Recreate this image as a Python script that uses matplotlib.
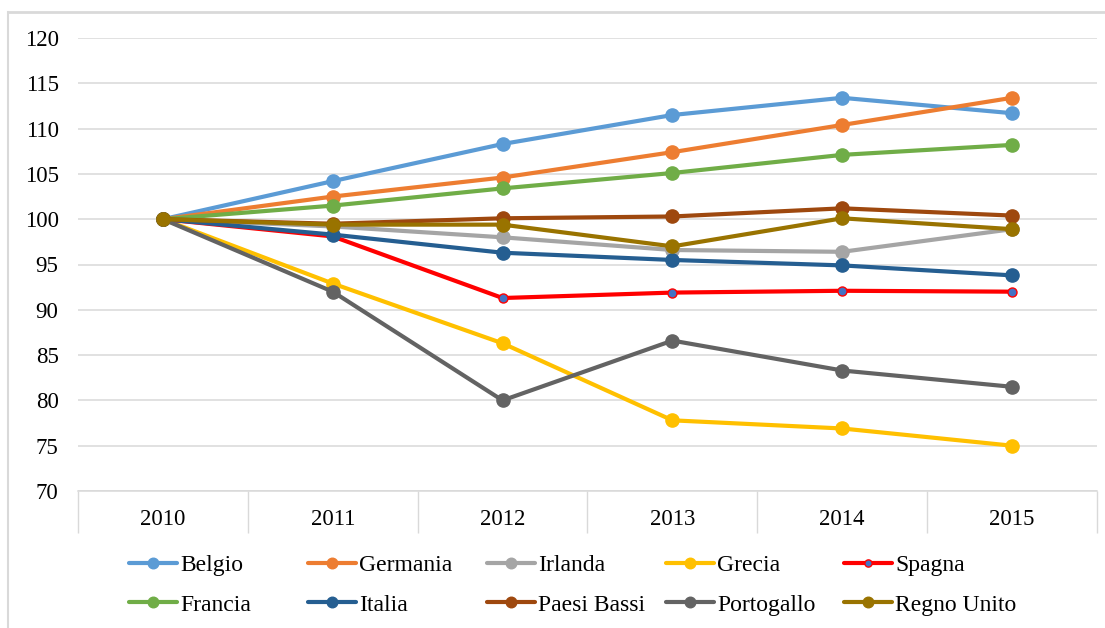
import matplotlib
matplotlib.use("Agg")
import matplotlib.pyplot as plt
from matplotlib.lines import Line2D

years = ["2010", "2011", "2012", "2013", "2014", "2015"]
countries = ["Belgio", "Germania", "Irlanda", "Grecia", "Spagna",
             "Francia", "Italia", "Paesi Bassi", "Portogallo", "Regno Unito"]

belgio = [100, 104.2, 108.3, 111.5, 113.4, 111.7]
germania = [100, 102.5, 104.6, 107.4, 110.4, 113.4]
irlanda = [100, 99.2, 98.0, 96.6, 96.4, 98.9]
grecia = [100, 92.9, 86.3, 77.8, 76.9, 75.0]
spagna = [100, 98.1, 91.3, 91.9, 92.1, 92.0]
francia = [100, 101.5, 103.4, 105.1, 107.1, 108.2]
italia = [100, 98.3, 96.3, 95.5, 94.9, 93.8]
paesi_bassi = [100, 99.5, 100.1, 100.3, 101.2, 100.4]
portogallo = [100, 92.0, 80.0, 86.6, 83.3, 81.5]
regno_unito = [100, 99.4, 99.4, 97.0, 100.1, 98.9]

series = [belgio, germania, irlanda, grecia, spagna,
          francia, italia, paesi_bassi, portogallo, regno_unito]
colors = ["#5B9BD5", "#ED7D31", "#A5A5A5", "#FFC000", "#FF0000",
          "#70AD47", "#255E91", "#9E480E", "#636363", "#997300"]

plt.rcParams["font.family"] = ["Liberation Serif", "DejaVu Serif"]

W, H = 1105, 628
fig = plt.figure(figsize=(W / 100, H / 100), dpi=100)
ax = fig.add_axes([78 / W, 1 - 491 / H, (1097 - 78) / W, (491 - 38) / H])

x = list(range(len(years)))
handles = []
for name, vals, col in zip(countries, series, colors):
    if name == "Spagna":
        h, = ax.plot(x, vals, color=col, lw=3.0, marker="o", ms=6.5,
                     mfc="#4472C4", mec=col, mew=1.0, label=name,
                     solid_capstyle="round", zorder=3)
    else:
        h, = ax.plot(x, vals, color=col, lw=3.0, marker="o", ms=9.5,
                     mfc=col, mec=col, label=name,
                     solid_capstyle="round", zorder=3)
    handles.append(h)

ax.set_xlim(-0.5, len(years) - 0.5)
ax.set_ylim(70, 120)
ax.set_yticks(range(70, 121, 5))
ax.set_xticks(x)
ax.set_xticklabels(years)
ax.set_xticks([i - 0.5 for i in range(len(years) + 1)], minor=True)
ax.tick_params(axis="x", which="major", length=0, pad=13, labelsize=16.5)
ax.tick_params(axis="x", which="minor", length=30, width=1.0,
               color="#D9D9D9", direction="out")
ax.tick_params(axis="y", length=0, pad=14, labelsize=16.5)
ax.grid(axis="y", color="#D9D9D9", lw=1.1, zorder=0)
ax.set_axisbelow(True)
for s in ["top", "right", "left"]:
    ax.spines[s].set_visible(False)
ax.spines["bottom"].set_color("#D9D9D9")
ax.spines["bottom"].set_linewidth(1.1)

# chart area frame (top and left edges visible)
fig.add_artist(Line2D([8 / W, 1], [1 - 12 / H, 1 - 12 / H],
                      transform=fig.transFigure, color="#D9D9D9", lw=2))
fig.add_artist(Line2D([8 / W, 8 / W], [0, 1 - 12 / H],
                      transform=fig.transFigure, color="#D9D9D9", lw=1.5))

# legend: 5 columns x 2 rows
col_x = [129, 308, 487, 666, 844]
for i in range(5):
    fig.legend(handles=[handles[i], handles[i + 5]],
               loc="center left", bbox_to_anchor=(col_x[i] / W, 1 - 585 / H),
               frameon=False, fontsize=17, handlelength=2.05,
               handletextpad=0.12, borderpad=0, borderaxespad=0,
               labelspacing=0.78, markerscale=0.8)

fig.savefig("out.png", dpi=100)
